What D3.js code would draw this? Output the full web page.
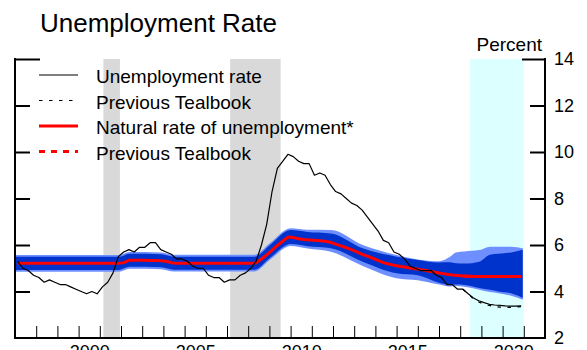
<!DOCTYPE html>
<html><head><meta charset="utf-8">
<script src="https://cdn.jsdelivr.net/npm/d3@7"></script>
<style>
html,body{margin:0;padding:0;background:#fff;}
svg{display:block;font-family:"Liberation Sans",Arial,Helvetica,sans-serif;}
</style></head><body>
<svg id="chart" width="587" height="350"></svg>
<script>
// ---------------- DATA ----------------
// Quarterly series, first observation 1997:Q1, plotted at mid-quarter
const firstYear = 1997;
const unemployment = [
  5.3, 5.0, 4.9, 4.7,   4.6, 4.4, 4.5, 4.4,   4.3, 4.3, 4.2, 4.1,   4.0, 3.9, 4.0, 3.9,
  4.2, 4.4, 4.8, 5.5,   5.7, 5.8, 5.7, 5.9,   5.9, 6.1, 6.1, 5.8,   5.7, 5.6, 5.4, 5.4,
  5.3, 5.1, 5.0, 5.0,   4.7, 4.6, 4.6, 4.4,   4.5, 4.5, 4.7, 4.8,   5.0, 5.3, 6.0, 6.9,
  8.3, 9.3, 9.6, 9.9,   9.8, 9.6, 9.5, 9.5,   9.0, 9.1, 9.0, 8.6,   8.3, 8.2, 8.0, 7.8,
  7.7, 7.5, 7.2, 6.9,   6.6, 6.2, 6.1, 5.7,   5.6, 5.4, 5.1, 5.0,   4.9, 4.9, 4.9, 4.7,
  4.6, 4.3, 4.3, 4.1,   4.1, 3.9, 3.72, 3.6,  3.52, 3.45, 3.42, 3.4, 3.38, 3.37, 3.37, 3.38
];
// Previous Tealbook unemployment path, starting 2018:Q1
const prevUnemploymentStart = 2018;
const prevUnemployment = [4.1, 3.9, 3.68, 3.55, 3.45, 3.4, 3.35, 3.33, 3.32, 3.32, 3.33, 3.35];

const naturalRate = [
  5.21, 5.21, 5.21, 5.21,  5.21, 5.21, 5.21, 5.21,  5.21, 5.21, 5.21, 5.21,  5.21, 5.21, 5.21, 5.21,
  5.21, 5.21, 5.21, 5.21,  5.24, 5.34, 5.34, 5.34,  5.34, 5.33, 5.33, 5.32,  5.30, 5.24, 5.21, 5.21,
  5.21, 5.21, 5.21, 5.21,  5.21, 5.21, 5.21, 5.21,  5.21, 5.21, 5.21, 5.21,  5.21, 5.24, 5.40, 5.58,
  5.78, 5.98, 6.16, 6.34,  6.32, 6.27, 6.24, 6.22,  6.20, 6.18, 6.16, 6.12,  6.04, 5.96, 5.88, 5.80,
  5.70, 5.60, 5.52, 5.43,  5.34, 5.24, 5.18, 5.13,  5.09, 5.05, 5.01, 4.98,  4.94, 4.90, 4.86, 4.82,
  4.78, 4.74, 4.71, 4.69,  4.67, 4.66, 4.65, 4.65,  4.65, 4.65, 4.65, 4.65,  4.65, 4.65, 4.65, 4.65
];
const prevNaturalStart = 2018;
const prevNaturalRate = [4.67, 4.66, 4.65, 4.65, 4.65, 4.65, 4.65, 4.65, 4.65, 4.65, 4.65, 4.65];

// Confidence bands around the natural rate
const bandYears   = [1997.0, 2001.9, 2002.4, 2003.9, 2004.5, 2008.3, 2009.0, 2010.0, 2010.8, 2011.9, 2013.4, 2015.0, 2016.0, 2017.0, 2017.5, 2017.8, 2018.2, 2018.9, 2019.4, 2019.8, 2020.4, 2020.95];
const darkUpper   = [5.49, 5.49, 5.62, 5.60, 5.50, 5.50, 5.98, 6.64, 6.56, 6.50, 5.86, 5.50, 5.36, 5.25, 5.26, 5.22, 5.20, 5.28, 5.58, 5.62, 5.68, 5.80];
const darkLower   = [4.93, 4.93, 5.06, 5.04, 4.94, 4.94, 5.42, 6.04, 5.95, 5.86, 5.28, 4.78, 4.70, 4.38, 4.30, 4.30, 4.28, 4.15, 4.07, 4.00, 3.92, 3.72];
const lightUpper  = [5.57, 5.57, 5.70, 5.68, 5.58, 5.58, 6.06, 6.72, 6.66, 6.65, 6.00, 5.57, 5.38, 5.30, 5.48, 5.68, 5.72, 5.78, 5.93, 5.93, 5.93, 5.86];
const lightLower  = [4.85, 4.85, 4.98, 4.96, 4.86, 4.86, 5.34, 5.96, 5.85, 5.71, 5.10, 4.57, 4.48, 4.30, 4.22, 4.24, 4.20, 4.08, 3.98, 3.93, 3.82, 3.65];

const recessions = [[2001.17, 2001.95], [2007.15, 2009.53]];
const forecastPeriod = [2018.46, 2021.0];

const yTicks = [2, 4, 6, 8, 10, 12, 14];
const xTickYears = d3.range(1998, 2022);
const xLabelYears = [2000, 2005, 2010, 2015, 2020];
const legendLabels = ["Unemployment rate", "Previous Tealbook", "Natural rate of unemployment*", "Previous Tealbook"];
const titleText = "Unemployment Rate";
const unitText = "Percent";

// ---------------- STYLES ----------------
const C = {
  dark: "#0033cc", light: "#6e8fff", red: "#ff0000", black: "#000",
  gray: "#d9d9d9", cyan: "#dcffff"
};
const legendStyles = [
  {color: C.black, width: 1.2, dash: null},
  {color: C.black, width: 1.2, dash: "3.5,6.5"},
  {color: C.red, width: 3, dash: null},
  {color: C.red, width: 3, dash: "6,6"}
];

// ---------------- SCALES ----------------
const svg = d3.select("#chart");
const pL = 15, pR = 545, pT = 59, pB = 338;
const x = d3.scaleLinear().domain([1997, 2022]).range([pL, pR]);
const y = d3.scaleLinear().domain([2, 14]).range([pB, pT]);

const qx = (start, i) => x(start + (i + 0.5) / 4);

// shaded periods
svg.append("g").selectAll("rect").data(recessions).join("rect")
  .attr("x", d => x(d[0])).attr("width", d => x(d[1]) - x(d[0]))
  .attr("y", pT).attr("height", pB - pT).attr("fill", C.gray);
svg.append("rect")
  .attr("x", x(forecastPeriod[0])).attr("width", x(forecastPeriod[1]) - x(forecastPeriod[0]))
  .attr("y", pT).attr("height", pB - pT).attr("fill", C.cyan);

// bands
const bandArea = (lo, hi) => d3.area()
  .x((d, i) => x(bandYears[i])).y0((d, i) => y(lo[i])).y1((d, i) => y(hi[i]))
  .curve(d3.curveMonotoneX)(bandYears);
svg.append("path").attr("d", bandArea(lightLower, lightUpper)).attr("fill", C.light);
svg.append("path").attr("d", bandArea(darkLower, darkUpper)).attr("fill", C.dark);

// lines
const lineGen = start => d3.line().x((d, i) => qx(start, i)).y(d => y(d));
svg.append("path").attr("d", lineGen(prevNaturalStart)(prevNaturalRate))
  .attr("fill", "none").attr("stroke", C.red).attr("stroke-width", 3).attr("stroke-dasharray", "6,6");
svg.append("path").attr("d", lineGen(firstYear)(naturalRate))
  .attr("fill", "none").attr("stroke", C.red).attr("stroke-width", 3).attr("stroke-linejoin", "round");
svg.append("path").attr("d", lineGen(prevUnemploymentStart)(prevUnemployment))
  .attr("fill", "none").attr("stroke", C.black).attr("stroke-width", 1.2).attr("stroke-dasharray", "3.5,6.5");
svg.append("path").attr("d", lineGen(firstYear)(unemployment))
  .attr("fill", "none").attr("stroke", C.black).attr("stroke-width", 1.2).attr("stroke-linejoin", "round");

// axes
const xAxis = svg.append("g").attr("transform", `translate(0,${pB})`)
  .call(d3.axisBottom(x).tickValues(xTickYears).tickSizeInner(-12).tickSizeOuter(0).tickFormat(""));
xAxis.select(".domain").attr("stroke-width", 2).attr("d", `M${pL - 1},0H${pR + 1}`);
xAxis.selectAll(".tick line").attr("stroke-width", 1);

const xLab = svg.append("g").attr("transform", `translate(0,${pB})`)
  .call(d3.axisBottom(x).tickValues(xLabelYears.map(v => v + 0.5)).tickSize(0).tickPadding(7)
    .tickFormat(d => String(Math.floor(d))));
xLab.select(".domain").remove();
xLab.selectAll("text").attr("font-size", 18).attr("font-family", null).attr("fill", "#000");

const yLeft = svg.append("g").attr("transform", `translate(${pL},0)`)
  .call(d3.axisRight(y).tickValues(yTicks.slice(1)).tickSizeInner(15).tickSizeOuter(0).tickFormat(""));
yLeft.select(".domain").attr("stroke-width", 2).attr("d", `M0,${pB}V${pT - 1}`);
yLeft.selectAll(".tick line").attr("stroke-width", 2).attr("x2", d => d === 14 ? 25 : 15);

const yRight = svg.append("g").attr("transform", `translate(${pR},0)`)
  .call(d3.axisRight(y).tickValues(yTicks).tickSizeInner(-15).tickSizeOuter(0).tickPadding(9));
yRight.select(".domain").attr("stroke-width", 2).attr("d", `M0,${pB}V${pT - 1}`);
yRight.selectAll(".tick line").attr("stroke-width", 2).attr("x2", d => d === 14 ? -23 : (d === 2 ? 0 : -15));
yRight.selectAll("text").attr("font-size", 18).attr("font-family", null).attr("fill", "#000");

// titles
svg.append("text").attr("x", 40).attr("y", 32).attr("font-size", 26).text(titleText);
svg.append("text").attr("x", 542).attr("y", 51).attr("font-size", 19).attr("text-anchor", "end").text(unitText);

// legend
const lg = svg.append("g");
legendLabels.forEach((lab, i) => {
  const ly = 75 + i * 25.5;
  const s = legendStyles[i];
  lg.append("line").attr("x1", 39).attr("x2", 78).attr("y1", ly).attr("y2", ly)
    .attr("stroke", s.color).attr("stroke-width", s.width).attr("stroke-dasharray", s.dash);
  lg.append("text").attr("x", 96).attr("y", ly + 8).attr("font-size", 19).text(lab);
});
</script>
</body></html>
